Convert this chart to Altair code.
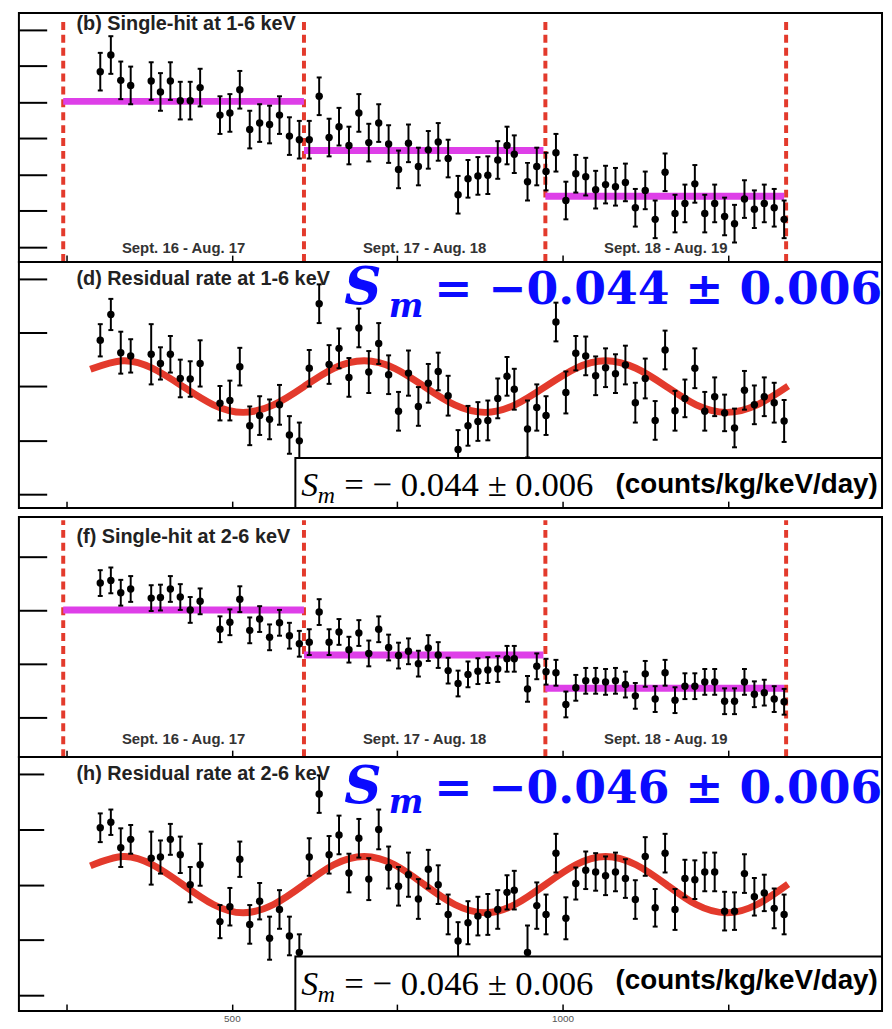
import altair as alt
import pandas as pd

# ---------------- data ----------------
days = [301, 317, 332, 347, 378, 392, 407, 422, 437, 452,
        482, 497, 512, 527, 542, 557, 572, 587, 602, 617, 632, 647, 662, 677,
        692, 707, 722, 737, 752, 767, 782, 797, 812, 827,
        842, 857, 872, 887, 902, 916, 927,
        947, 961, 975, 990, 1005, 1020, 1035, 1050, 1065, 1080, 1095, 1110, 1125,
        1140, 1155, 1170, 1185, 1200, 1215, 1230, 1245, 1260, 1275, 1290, 1305, 1320, 1335]

# (b) single-hit rate 1-6 keV (counts/kg/keV/day)
rate_1_6 = [2.942, 2.965, 2.930, 2.923, 2.929, 2.914, 2.929, 2.902, 2.902, 2.920,
            2.882, 2.885, 2.917, 2.862, 2.871, 2.869, 2.882, 2.853, 2.848, 2.848, 2.908, 2.851, 2.866, 2.840,
            2.885, 2.844, 2.871, 2.842, 2.807, 2.843, 2.811, 2.834, 2.845, 2.822,
            2.772, 2.794, 2.798, 2.799, 2.820, 2.840, 2.828,
            2.790, 2.811, 2.804, 2.830, 2.764, 2.801, 2.797, 2.779, 2.786, 2.783, 2.789, 2.754, 2.778,
            2.738, 2.803, 2.746, 2.760, 2.787, 2.746, 2.760, 2.742, 2.732, 2.766, 2.752, 2.760, 2.754, 2.738]
rate_err_1_6 = 0.026

# (d) residual rate 1-6 keV
resid_1_6 = [0.086, 0.134, 0.063, 0.057, 0.060, 0.043, 0.060, 0.015, 0.014, 0.043,
             -0.031, -0.026, 0.037, -0.073, -0.054, -0.061, -0.034, -0.090, -0.101, 0.034, 0.154, 0.041, 0.071, 0.017,
             0.109, 0.027, 0.080, 0.022, -0.046, 0.025, -0.037, 0.006, 0.028, -0.017,
             -0.117, -0.073, -0.065, -0.063, -0.022, 0.019, -0.005,
             -0.079, -0.039, -0.054, 0.120, -0.011, 0.062, 0.057, 0.020, 0.035, 0.024, 0.040, -0.030, 0.015,
             -0.063, 0.068, -0.045, -0.022, 0.034, -0.046, -0.019, -0.049, -0.077, -0.007, -0.034, -0.019, -0.030, -0.064]
resid_err_1_6 = [0.030, 0.029, 0.039, 0.031, 0.056, 0.030, 0.034, 0.035, 0.033, 0.043,
                 0.032, 0.037, 0.035, 0.036, 0.036, 0.037, 0.037, 0.035, 0.034, 0.034, 0.036, 0.036, 0.037, 0.036,
                 0.036, 0.039, 0.038, 0.036, 0.036, 0.042, 0.036, 0.036, 0.035, 0.037,
                 0.036, 0.037, 0.036, 0.037, 0.037, 0.036, 0.038,
                 0.053, 0.043, 0.036, 0.036, 0.039, 0.032, 0.036, 0.036, 0.036, 0.036, 0.036, 0.037, 0.037,
                 0.036, 0.036, 0.037, 0.035, 0.037, 0.036, 0.036, 0.034, 0.036, 0.036, 0.036, 0.036, 0.037, 0.039]

# (f) single-hit rate 2-6 keV
rate_2_6 = [2.051, 2.056, 2.033, 2.040, 2.023, 2.024, 2.040, 2.025, 2.001, 2.017,
            1.965, 1.978, 2.021, 1.963, 1.984, 1.950, 1.977, 1.953, 1.938, 1.941, 1.997, 1.941, 1.960, 1.927,
            1.958, 1.920, 1.965, 1.931, 1.916, 1.924, 1.901, 1.930, 1.917, 1.888,
            1.864, 1.881, 1.887, 1.889, 1.891, 1.910, 1.910,
            1.854, 1.896, 1.886, 1.884, 1.825, 1.856, 1.869, 1.869, 1.867, 1.869, 1.862, 1.841, 1.882,
            1.835, 1.884, 1.833, 1.859, 1.859, 1.867, 1.867, 1.831, 1.831, 1.867, 1.844, 1.847, 1.835, 1.830]
rate_err_2_6 = 0.024

# (h) residual rate 2-6 keV
resid_2_6 = [0.103, 0.113, 0.067, 0.082, 0.048, 0.050, 0.082, 0.054, 0.000, 0.036,
             -0.067, -0.040, 0.046, -0.072, -0.030, -0.097, -0.045, -0.093, -0.123, 0.050, 0.164, 0.054, 0.090, 0.021,
             0.084, 0.010, 0.100, 0.031, -0.003, 0.018, -0.026, 0.028, 0.000, -0.054,
             -0.102, -0.069, -0.057, -0.054, -0.045, -0.014, -0.010,
             -0.123, -0.038, -0.054, 0.057, -0.061, 0.002, 0.026, 0.023, 0.016, 0.023, 0.011, -0.027, 0.051,
             -0.042, 0.057, -0.045, 0.011, 0.009, 0.023, 0.023, -0.048, -0.048, 0.020, -0.022, -0.015, -0.043, -0.054]
resid_err_2_6 = [0.026, 0.023, 0.035, 0.026, 0.048, 0.030, 0.028, 0.033, 0.032, 0.038,
                 0.030, 0.034, 0.032, 0.035, 0.033, 0.039, 0.035, 0.035, 0.033, 0.034, 0.034, 0.034, 0.035, 0.035,
                 0.035, 0.038, 0.036, 0.038, 0.035, 0.040, 0.036, 0.035, 0.035, 0.036,
                 0.034, 0.039, 0.035, 0.037, 0.035, 0.031, 0.035,
                 0.049, 0.042, 0.036, 0.035, 0.038, 0.029, 0.034, 0.034, 0.035, 0.035, 0.035, 0.035, 0.035,
                 0.034, 0.035, 0.037, 0.034, 0.035, 0.035, 0.035, 0.035, 0.034, 0.035, 0.034, 0.033, 0.036, 0.036]

# yearly periods
year_edges = [245, 609, 974, 1338]
year_labels = ["Sept. 16 - Aug. 17", "Sept. 17 - Aug. 18", "Sept. 18 - Aug. 19"]
seg_start = [245, 609, 974]
seg_end = [609, 971, 1335]
mean_1_6 = [2.901, 2.833, 2.770]
mean_2_6 = [2.001, 1.917, 1.855]

# modulation fit curves
fit_days = [286, 335, 380, 426, 472, 517, 563, 609, 654, 700, 746, 791,
            837, 883, 928, 974, 1020, 1065, 1111, 1157, 1202, 1248, 1294, 1341]
fit_1_6 = [0.032, 0.048, 0.034, 0.000, -0.034, -0.048, -0.034, 0.000, 0.034, 0.048, 0.034, 0.000,
           -0.034, -0.048, -0.034, 0.000, 0.034, 0.048, 0.034, 0.000, -0.034, -0.048, -0.034, 0.001]
fit_2_6 = [0.034, 0.051, 0.036, 0.000, -0.036, -0.051, -0.036, 0.000, 0.036, 0.051, 0.036, 0.000,
           -0.036, -0.051, -0.036, 0.000, 0.036, 0.051, 0.036, 0.000, -0.036, -0.051, -0.036, 0.001]

x_ticks = [250, 500, 750, 1000, 1250]
# ---------------- styling ----------------
XDOM = [178, 1483]
W = 870
RED = "#E33A2C"
MAG = "#DE3FE8"
BLUE = "#0A0AFF"
DARK = "#222222"

df = pd.DataFrame({"day": days, "b": rate_1_6, "d": resid_1_6, "d_err": resid_err_1_6,
                   "f": rate_2_6, "h": resid_2_6, "h_err": resid_err_2_6})
df["b_err"] = rate_err_1_6
df["f_err"] = rate_err_2_6
lab_df = pd.DataFrame({"mid": [(a + b) / 2 for a, b in zip(year_edges[:-1], year_edges[1:])],
                       "t": year_labels})
fit_df = pd.DataFrame({"day": fit_days, "d": fit_1_6, "h": fit_2_6})


def xenc(field, labels=False):
    return alt.X(f"{field}:Q", scale=alt.Scale(domain=XDOM, nice=False, zero=False),
                 axis=alt.Axis(values=x_ticks, offset=-7, tickSize=7, tickWidth=1.5, tickColor="black",
                               domain=False, grid=False, labels=labels, format="d",
                               labelExpr="datum.value % 500 === 0 ? datum.label : ''",
                               labelFont="Liberation Sans", labelFontSize=10, labelColor="#555555",
                               labelPadding=3, labelBaseline="top", title=None, zindex=1))


def make_y(dom, ticks, tsize):
    def yenc(field):
        return alt.Y(f"{field}:Q", scale=alt.Scale(domain=dom, nice=False, zero=False),
                     axis=alt.Axis(values=ticks, offset=-tsize, tickSize=tsize, tickWidth=2,
                                   tickColor="black", domain=False, grid=False, labels=False,
                                   title=None, zindex=1))
    return yenc


def text(xe, ye, x, y, s, size, font, color, weight="normal", style="normal", align="left",
         baseline="alphabetic"):
    return alt.Chart(pd.DataFrame({"x": [x], "y": [y], "t": [s]})).mark_text(
        align=align, baseline=baseline, font=font, fontSize=size, fontWeight=weight,
        fontStyle=style, color=color).encode(x=xe("x"), y=ye("y"), text="t:N")


def data_layers(val, err, ye, xlab):
    base = alt.Chart(df).transform_calculate(lo=f"datum.{val} - datum.{err}",
                                             hi=f"datum.{val} + datum.{err}")
    bars = base.mark_rule(color="black", strokeWidth=2).encode(
        x=xenc("day", xlab), y=ye("lo"), y2="hi:Q")
    caps = base.transform_fold(["lo", "hi"], as_=["end", "yv"]).mark_tick(
        orient="horizontal", size=5, thickness=2, color="black", opacity=1).encode(
        x=xenc("day", xlab), y=ye("yv"))
    pts = base.mark_circle(size=56, color="black", opacity=1).encode(
        x=xenc("day", xlab), y=ye(val))
    return [bars, caps, pts]


def rate_panel(val, err, means, dom, dash_top, ticks, tsize, h, title, title_y, lab_y):
    ye = make_y(dom, ticks, tsize)
    edges_df = pd.DataFrame({"edge": year_edges, "y0": dom[0], "y1": dash_top})
    dashes = alt.Chart(edges_df).mark_rule(color=RED, strokeWidth=4, strokeDash=[8, 5]).encode(
        x=xenc("edge"), y=ye("y0"), y2="y1:Q")
    segs = alt.Chart(pd.DataFrame({"s": seg_start, "e": seg_end, "m": means})).mark_rule(
        color=MAG, strokeWidth=7).encode(x=xenc("s"), x2="e:Q", y=ye("m"))
    labs = alt.Chart(lab_df.assign(y=lab_y)).mark_text(
        align="center", baseline="alphabetic", font="Liberation Sans", fontSize=15,
        fontWeight="bold", color="#333333").encode(x=xenc("mid"), y=ye("y"), text="t:N")
    ttl = text(xenc, ye, 265, title_y, title, 20, "Liberation Sans", DARK, weight="bold",
               baseline="top")
    layers = [dashes, segs] + data_layers(val, err, ye, False) + [labs, ttl]
    return alt.layer(*layers).properties(width=W, height=h)


def resid_panel(val, err, fitcol, dom, ticks, tsize, h, title, title_y, box_top, sm_txt,
                big_y, small_y, xlab):
    ye = make_y(dom, ticks, tsize)
    fit = alt.Chart(fit_df).mark_line(color=RED, strokeWidth=7, interpolate="natural").encode(
        x=xenc("day", xlab), y=ye(fitcol))
    box = alt.Chart(pd.DataFrame({"x0": [596], "x1": [XDOM[1]], "y0": [dom[0]], "y1": [box_top]})).mark_rect(
        fill="white", stroke="black", strokeWidth=2).encode(
        x=xenc("x0", xlab), x2="x1:Q", y=ye("y0"), y2="y1:Q")
    ttl = text(xenc, ye, 265, title_y, title, 20, "Liberation Sans", DARK, weight="bold")
    by, my = big_y
    big = [
        text(xenc, ye, 670, by, "S", 52, "DejaVu Serif", BLUE, weight="bold", style="italic"),
        text(xenc, ye, 737, my, "m", 33, "DejaVu Serif", BLUE, weight="bold", style="italic"),
        text(xenc, ye, 806, by, "= \u2212" + sm_txt + " \u00b1 0.006", 46, "DejaVu Serif", BLUE,
             weight="bold"),
    ]
    sy, sm_y, cy = small_y
    small = [
        text(xenc, ye, 605, sy, "S", 34, "Liberation Serif", "black", style="italic"),
        text(xenc, ye, 630, sm_y, "m", 24, "Liberation Serif", "black", style="italic"),
        text(xenc, ye, 670, sy, "= \u2212 " + sm_txt + " \u00b1 0.006", 35, "Liberation Serif", "black"),
        text(xenc, ye, 1080, cy, "(counts/kg/keV/day)", 28, "Liberation Sans", "black", weight="bold"),
    ]
    layers = [fit] + data_layers(val, err, ye, xlab) + [box, ttl] + small + big
    return alt.layer(*layers).properties(width=W, height=h)


# titles of the single-hit panels are given by their top edge (baseline="top")
p1 = rate_panel("b", "b_err", mean_1_6, [2.679, 3.023], 3.015,
                [2.7, 2.75, 2.8, 2.85, 2.9, 2.95, 3.0], 28, 251,
                "(b) Single-hit at 1-6 keV", 3.0215, 2.6914)
p2 = resid_panel("d", "d_err", "d", [-0.226, 0.2315], [-0.2, -0.1, 0, 0.1, 0.2], 28, 248,
                 "(d) Residual rate at 1-6 keV", 0.189, -0.1328, "0.044",
                 (0.1537, 0.1296), (-0.2037, -0.2167, -0.198), False)
p3 = rate_panel("f", "f_err", mean_2_6, [1.727, 2.174], 2.168,
                [1.8, 1.9, 2.0, 2.1], 28, 242,
                "(f) Single-hit at 2-6 keV", 2.156, 1.7513)
p4 = resid_panel("h", "h_err", "h", [-0.229, 0.231], [-0.2, -0.1, 0, 0.1, 0.2], 25, 256,
                 "(h) Residual rate at 2-6 keV", 0.190, -0.130, "0.046",
                 (0.147, 0.129), (-0.2002, -0.2128, -0.189), True)

spacer = alt.Chart(pd.DataFrame({"a": [0]})).mark_rule(opacity=0).encode(
    x=alt.value(0), x2=alt.value(1), y=alt.value(0)
).properties(width=W, height=9, view=alt.ViewConfig(stroke="transparent"))

chart = alt.vconcat(p1, p2, spacer, p3, p4, spacing=0, bounds="flush").properties(
    padding={"left": 9, "top": 0, "right": 0, "bottom": 0},
    background="white",
).configure_view(stroke="black", strokeWidth=2)

chart.save("out.html", embed_options={"renderer": "svg", "actions": False})
